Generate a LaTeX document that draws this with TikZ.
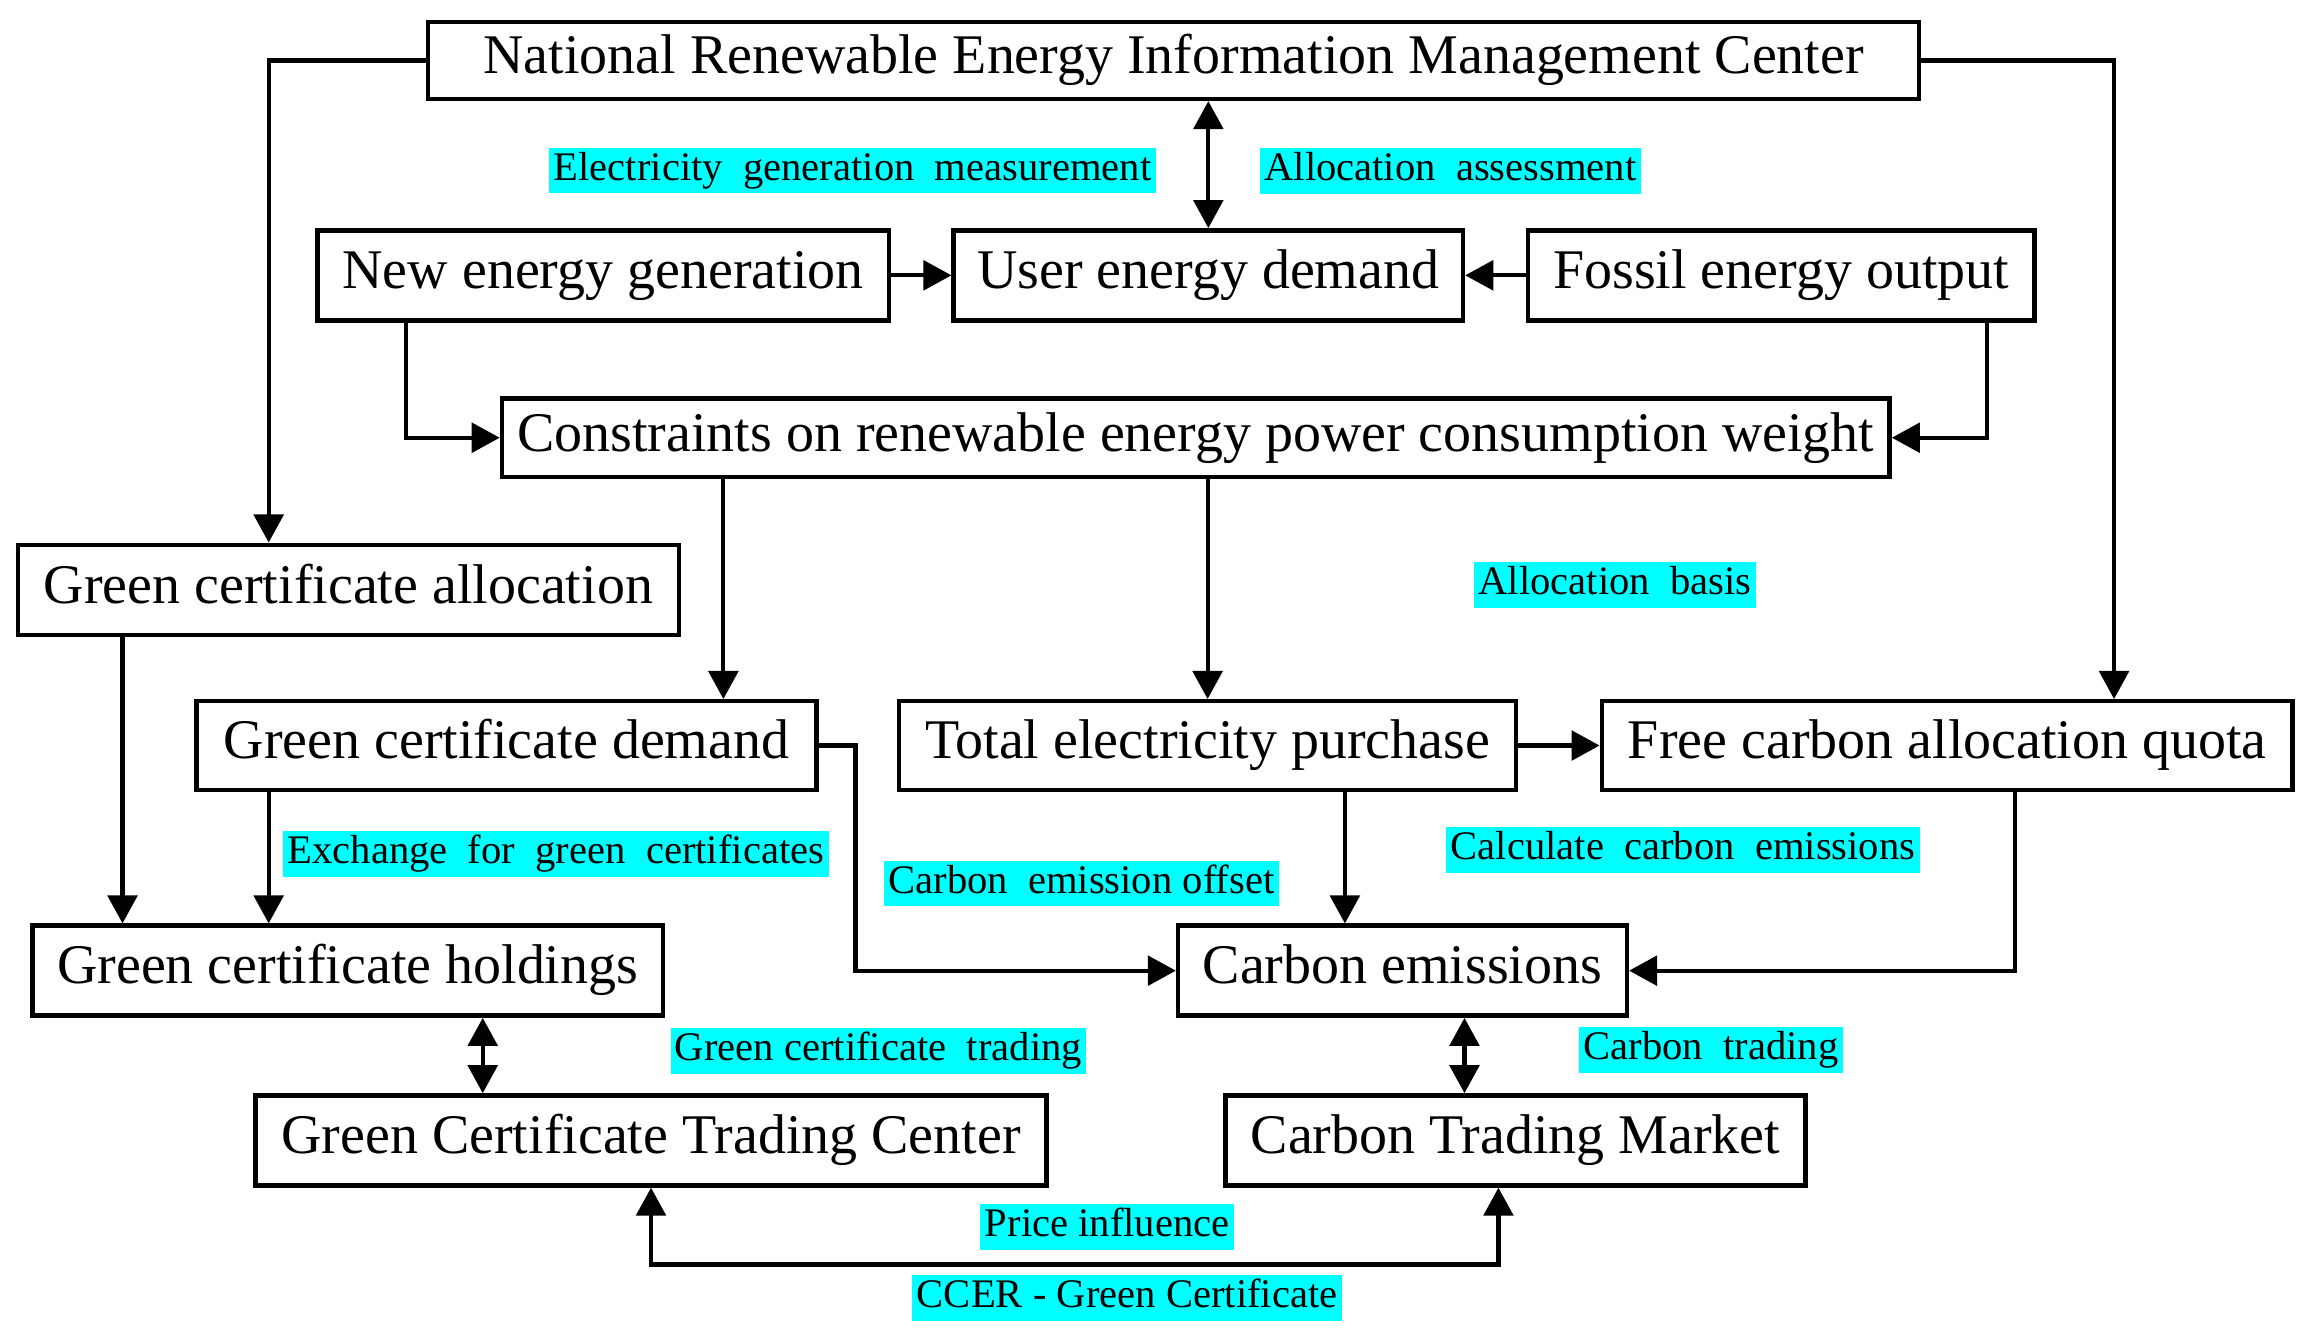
\documentclass[tikz,border=0pt]{standalone}
\usepackage{fontspec}
\setmainfont{Liberation Serif}
\usetikzlibrary{arrows.meta}
\usetikzlibrary{graphs}
\definecolor{tagcyan}{RGB}{0,255,255}
\newcommand\boxfont{\fontsize{37.9}{40}\selectfont}
\newcommand\tagfont{\fontsize{27.5}{30}\selectfont}
\tikzset{
  box/.style= {draw, line width=3pt, inner sep=0pt, minimum height=61pt,
    text height=26pt, text depth=8pt, font=\boxfont},
  tag/.style= {fill=tagcyan, inner xsep=3pt, inner ysep=0pt, minimum height=31pt,
    text height=19.5pt, text depth=6.5pt, font=\tagfont},
  wide/.style= {execute at begin node={\spaceskip=0.5em plus 0.1em\relax}},
  link/.style= {line width=2.8pt, -{Triangle[length=19pt,width=20pt]}},
  both/.style= {line width=2.8pt, {Triangle[length=19pt,width=20pt]}-{Triangle[length=19pt,width=20pt]}},
}

\begin{document}
\begin{tikzpicture}[x=1pt, y=-1pt, >={Triangle[length=19pt,width=20pt]}]
  \useasboundingbox (0,0) rectangle (1560,907.7);

  % boxes
  \node [box, minimum width=1010pt, minimum height=52pt] (nrec) at (795,41) {National Renewable Energy Information Management Center} ;
  \node [box, minimum width=387pt] (neg) at (408.5,186.5) {New energy generation} ;
  \node [box, minimum width=345pt] (ued) at (818.5,186.5) {User energy demand} ;
  \node [box, minimum width=343pt] (feo) at (1206.5,186.5) {Fossil energy output} ;
  \node [box, minimum width=940pt, minimum height=53pt] (cons) at (810,296.5) {Constraints on renewable energy power consumption weight} ;
  \node [box, minimum width=448pt] (gca) at (236,399.5) {Green certificate allocation} ;
  \node [box, minimum width=420pt, minimum height=60pt] (gcd) at (343,505) {Green certificate demand} ;
  \node [box, minimum width=418pt, minimum height=60pt] (tep) at (818,505) {Total electricity purchase} ;
  \node [box, minimum width=468pt, minimum height=60pt] (fcq) at (1319,505) {Free carbon allocation quota} ;
  \node [box, minimum width=427pt] (gch) at (235.5,657.5) {Green certificate holdings} ;
  \node [box, minimum width=304pt] (cem) at (950,657.5) {Carbon emissions} ;
  \node [box, minimum width=536pt] (gctc) at (441,772.5) {Green Certificate Trading Center} ;
  \node [box, minimum width=393pt] (ctm) at (1026.5,772.5) {Carbon Trading Market} ;

  % labels
  \node [tag, wide] (egm) at (577.5,115.5) {Electricity generation measurement} ;
  \node [tag, wide] (aas) at (982.5,116) {Allocation assessment} ;
  \node [tag, wide] (abs) at (1094,396.5) {Allocation basis} ;
  \node [tag, wide] (efg) at (376.5,578.5) {Exchange for green certificates} ;
  \node [tag] (ceo) at (732.5,598.5) {Carbon\hspace{0.25em} emission offset} ;
  \node [tag, wide] (cce) at (1140,576) {Calculate carbon emissions} ;
  \node [tag] (gct) at (595,712) {Green certificate\hspace{0.25em} trading} ;
  \node [tag, wide] (ctr) at (1159,711) {Carbon trading} ;
  \node [tag] (pin) at (750,831) {Price influence} ;
  \node [tag] (ccer) at (763.5,879) {CCER - Green Certificate} ;

  % anchor points on the boxes
  \coordinate (gcdin) at ([xshift=147pt]gcd.north) ;
  \coordinate (gchinA) at ([xshift=-152.5pt]gch.north) ;
  \coordinate (gchinB) at ([xshift=-53.5pt]gch.north) ;
  \coordinate (cemin) at ([xshift=-39pt]cem.north) ;
  \coordinate (fcqout) at ([xshift=46pt]fcq.south) ;
  \coordinate (gchout) at ([xshift=91.5pt]gch.south) ;
  \coordinate (cemout) at ([xshift=42pt]cem.south) ;

  \graph [edges={line width=2.8pt}] {
    (neg) -> (ued) <- (feo) ;
    (tep) -> (fcq) ;
  } ;

  \draw [link] (nrec.west) -| ([xshift=-54pt]gca.north) ;
  \draw [link] (nrec.east) -| ([xshift=113pt]fcq.north) ;
  \draw [both] (ued.north) -- (ued.north |- nrec.south) ;
  \draw [link] ([xshift=-133.5pt]neg.south) |- (cons.west) ;
  \draw [link] ([xshift=139.5pt]feo.south) |- (cons.east) ;
  \draw [link] (cons.south -| gcdin) -- (gcdin) ;
  \draw [link] (cons.south -| tep.north) -- (tep.north) ;
  \draw [link] (gca.south -| gchinA) -- (gchinA) ;
  \draw [link] (gcd.south -| gchinB) -- (gchinB) ;
  \draw [link] (gcd.east) -- ++(25,0) |- (cem.west) ;
  \draw [link] (tep.south -| cemin) -- (cemin) ;
  \draw [link] (fcqout) |- (cem.east) ;
  \draw [both] (gchout) -- (gchout |- gctc.north) ;
  \draw [both] (cemout) -- (cemout |- ctm.north) ;
  \draw [both] (gctc.south) -- ++(0,52) -| ([xshift=-11.5pt]ctm.south) ;
\end{tikzpicture}
\end{document}
